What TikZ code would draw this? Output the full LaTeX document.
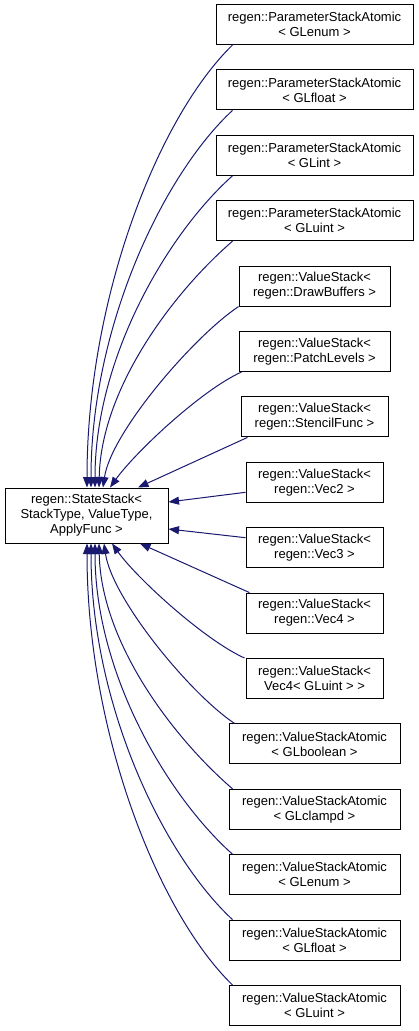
\documentclass[tikz,border=0pt]{standalone}
\usepackage{fontspec}
\setmainfont{Liberation Sans}
\usetikzlibrary{arrows.meta,positioning}
\usepackage{xcolor}
\definecolor{edgeblue}{HTML}{191970}

\begin{document}
\begin{tikzpicture}[x=1pt,y=-1pt,font=\fontsize{13}{15}\selectfont,node distance=24.4pt,
        cls/.style={rectangle,draw=black,fill=white,line width=1pt,align=center,
                    minimum height=40pt,inner sep=2pt},
        inh/.style={-{Triangle[length=10.5pt,width=8pt]},draw=edgeblue,fill=none,
                    line width=1pt}]
        \useasboundingbox (0,0) rectangle (419,1031);
        \node[cls,minimum width=163pt,minimum height=55pt] (base) at (86.5,515.5)
             {regen::StateStack<\\StackType, ValueType,\\ApplyFunc >};
        % derived classes, one column
        \node[cls,minimum width=197pt] (psEnum) at (314.5,24.5) {regen::ParameterStackAtomic\\< GLenum >};
        \node[cls,minimum width=197pt,below=of psEnum] (psFloat) {regen::ParameterStackAtomic\\< GLfloat >};
        \node[cls,minimum width=197pt,below=of psFloat] (psInt) {regen::ParameterStackAtomic\\< GLint >};
        \node[cls,minimum width=197pt,below=of psInt] (psUint) {regen::ParameterStackAtomic\\< GLuint >};
        \node[cls,minimum width=151pt,below=of psUint] (vsDraw) {regen::ValueStack<\\regen::DrawBuffers >};
        \node[cls,minimum width=151pt,below=of vsDraw] (vsPatch) {regen::ValueStack<\\regen::PatchLevels >};
        \node[cls,minimum width=147pt,below=of vsPatch] (vsStencil) {regen::ValueStack<\\regen::StencilFunc >};
        \node[cls,minimum width=137pt,below=of vsStencil] (vsVecTwo) {regen::ValueStack<\\regen::Vec2 >};
        \node[cls,minimum width=137pt,below=of vsVecTwo] (vsVecThree) {regen::ValueStack<\\regen::Vec3 >};
        \node[cls,minimum width=137pt,below=of vsVecThree] (vsVecFour) {regen::ValueStack<\\regen::Vec4 >};
        \node[cls,minimum width=137pt,below=of vsVecFour] (vsVecUint) {regen::ValueStack<\\Vec4< GLuint > >};
        \node[cls,minimum width=171pt,below=of vsVecUint] (vaBool) {regen::ValueStackAtomic\\< GLboolean >};
        \node[cls,minimum width=171pt,below=of vaBool] (vaClamp) {regen::ValueStackAtomic\\< GLclampd >};
        \node[cls,minimum width=171pt,below=of vaClamp] (vaEnum) {regen::ValueStackAtomic\\< GLenum >};
        \node[cls,minimum width=171pt,below=of vaEnum] (vaFloat) {regen::ValueStackAtomic\\< GLfloat >};
        \node[cls,minimum width=171pt,below=of vaFloat] (vaUint) {regen::ValueStackAtomic\\< GLuint >};
        % inheritance arrows, upper half
        \draw[inh] ([xshift=17pt]psEnum.south west) .. controls +(-75,73) and +(0,-188) .. ([xshift=0.5pt]base.north);
        \draw[inh] ([xshift=17pt]psFloat.south west) .. controls +(-70,65) and +(0,-160) .. ([xshift=4.5pt]base.north);
        \draw[inh] ([xshift=17pt]psInt.south west) .. controls +(-65,58) and +(0,-130) .. ([xshift=8.5pt]base.north);
        \draw[inh] ([xshift=17pt]psUint.south west) .. controls +(-58,50) and +(2,-100) .. ([xshift=12.5pt]base.north);
        \draw[inh] (vsDraw.south west) .. controls +(-45,30) and +(8,-55) .. ([xshift=16.5pt]base.north);
        \draw[inh] ([xshift=3pt]vsPatch.south west) .. controls +(-40,18) and +(25,-35) .. ([xshift=23.5pt]base.north);
        \draw[inh] ([xshift=7pt]vsStencil.south west) -- ([xshift=51.5pt]base.north);
        \draw[inh] ([yshift=-10pt]vsVecTwo.west) -- ([yshift=13.5pt]base.east);
        % lower half
        \draw[inh] ([yshift=10pt]vsVecThree.west) -- ([yshift=-13.5pt]base.east);
        \draw[inh] ([xshift=4pt]vsVecFour.north west) -- ([xshift=53.5pt]base.south);
        \draw[inh] ([xshift=-1pt]vsVecUint.north west) .. controls +(-40,-18) and +(25,35) .. ([xshift=25.5pt]base.south);
        \draw[inh] ([xshift=6pt]vaBool.north west) .. controls +(-45,-30) and +(8,55) .. ([xshift=17.5pt]base.south);
        \draw[inh] ([xshift=4pt]vaClamp.north west) .. controls +(-58,-50) and +(2,100) .. ([xshift=12.5pt]base.south);
        \draw[inh] ([xshift=4pt]vaEnum.north west) .. controls +(-65,-58) and +(0,130) .. ([xshift=8.5pt]base.south);
        \draw[inh] ([xshift=4pt]vaFloat.north west) .. controls +(-70,-65) and +(0,160) .. ([xshift=4.5pt]base.south);
        \draw[inh] ([xshift=4pt]vaUint.north west) .. controls +(-75,-73) and +(0,188) .. ([xshift=0.5pt]base.south);
      \end{tikzpicture}
\end{document}
